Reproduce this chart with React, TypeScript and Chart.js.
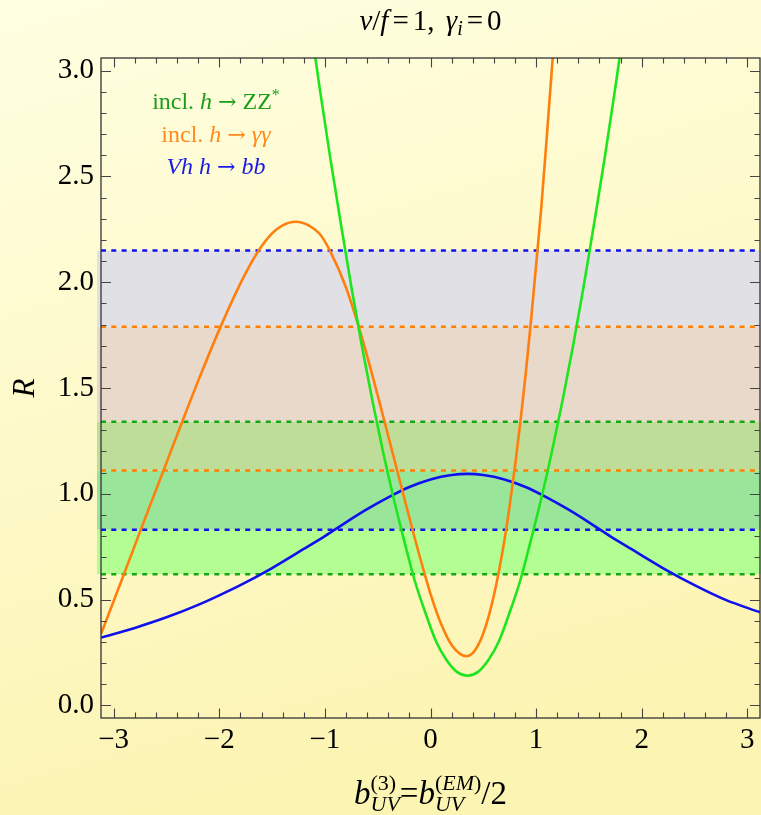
import React, { useEffect, useRef } from 'react';
import { Chart, registerables } from 'chart.js';

Chart.register(...registerables);

// ---- data ----
const zzX = [-1.25, -1.15, -1.05, -0.95, -0.85, -0.75, -0.65, -0.55, -0.45, -0.35, -0.25, -0.15, -0.05, 0.05, 0.15, 0.25, 0.35, 0.45, 0.55, 0.65, 0.75, 0.85, 0.95, 1.05, 1.15, 1.25, 1.35, 1.45, 1.55, 1.65, 1.75, 1.85, 1.95];
const zzY = [3.62, 3.27, 2.92, 2.59, 2.28, 1.98, 1.7, 1.44, 1.2, 0.98, 0.78, 0.59, 0.44, 0.305, 0.215, 0.158, 0.14, 0.158, 0.215, 0.305, 0.44, 0.59, 0.78, 0.98, 1.2, 1.44, 1.7, 1.98, 2.28, 2.59, 2.92, 3.27, 3.62];

const aaX = [-3.12, -2.92, -2.73, -2.52, -2.34, -2.177, -1.977, -1.777, -1.63, -1.5, -1.4, -1.277, -1.15, -1.05, -0.949, -0.8, -0.65, -0.5, -0.35, -0.2, -0.1, 0.0, 0.1, 0.2, 0.34, 0.4, 0.45, 0.5, 0.55, 0.6, 0.65, 0.7, 0.75, 0.8, 0.85, 0.9, 0.95, 1.0, 1.05, 1.1, 1.157, 1.21];
const aaY = [0.337, 0.597, 0.848, 1.121, 1.355, 1.562, 1.802, 2.017, 2.148, 2.231, 2.269, 2.286, 2.268, 2.229, 2.146, 1.975, 1.739, 1.465, 1.176, 0.887, 0.7, 0.527, 0.385, 0.285, 0.232, 0.247, 0.283, 0.34, 0.419, 0.519, 0.64, 0.78, 0.945, 1.13, 1.335, 1.56, 1.81, 2.08, 2.36, 2.68, 3.06, 3.44];

const bbX = [-3.12, -2.8, -2.5, -2.2, -2.0, -1.8, -1.5, -1.2, -1.0, -0.8, -0.6, -0.4, -0.2, 0.0, 0.2, 0.35, 0.5, 0.7, 0.9, 1.1, 1.3, 1.5, 1.7, 1.9, 2.2, 2.5, 2.8, 3.12];
const bbY = [0.32, 0.366, 0.416, 0.475, 0.52, 0.568, 0.649, 0.739, 0.8, 0.865, 0.927, 0.983, 1.032, 1.068, 1.089, 1.094, 1.089, 1.068, 1.032, 0.983, 0.927, 0.865, 0.8, 0.739, 0.649, 0.568, 0.497, 0.44];

// measured bands: order bb, γγ, ZZ
const bandLow = [0.83, 1.11, 0.62];
const bandHigh = [2.15, 1.79, 1.34];

const xTicks = [-3, -2, -1, 0, 1, 2, 3];
const yTicks = [0, 0.5, 1, 1.5, 2, 2.5, 3];

const X_MIN = -3.12, X_MAX = 3.12, Y_MIN = -0.06, Y_MAX = 3.06;

// ---- styles ----
const FONT = '"Liberation Serif", "Times New Roman", serif';
const ARROW_FONT = '"DejaVu Serif", serif';
const curveColors = ['#1EE61E', '#FF7F0E', '#1010EE'];
const dashColors = ['#1010EE', '#FF8000', '#11AA11'];
const textColors = ['#1A9E1A', '#FF8A1E', '#1A1AE6'];
// fill colour for each combination of covering bands (bb, γγ, ZZ)
const comboColors: Record<string, string> = {
  '100': '#E1E0E5',
  '110': '#E8D9CB',
  '111': '#BDDD99',
  '101': '#99E69A',
  '001': '#B3FE92',
  '011': '#BDDD99',
  '010': '#E8D9CB',
};

type Run = { t: string; it?: boolean; s?: number; dy?: number; gap?: number; f?: string };
type Stack = { sub: Run[]; sup: Run[]; subDy: number; supDy: number };
type Item = Run | Stack;

function fontOf(r: Run, base: number) {
  return `${r.it ? 'italic ' : ''}${Math.round(base * (r.s || 1))}px ${r.f || FONT}`;
}
function runsWidth(ctx: CanvasRenderingContext2D, runs: Run[], base: number) {
  let w = 0;
  for (const r of runs) {
    ctx.font = fontOf(r, base);
    w += ctx.measureText(r.t).width + (r.gap || 0);
  }
  return w;
}
function itemWidth(ctx: CanvasRenderingContext2D, it: Item, base: number) {
  if ('sub' in it) return Math.max(runsWidth(ctx, it.sub, base), runsWidth(ctx, it.sup, base));
  return runsWidth(ctx, [it], base);
}
function drawRuns(ctx: CanvasRenderingContext2D, runs: Run[], x: number, y: number, base: number) {
  for (const r of runs) {
    ctx.font = fontOf(r, base);
    ctx.fillText(r.t, x, y + (r.dy || 0));
    x += ctx.measureText(r.t).width + (r.gap || 0);
  }
}
function drawRich(ctx: CanvasRenderingContext2D, items: Item[], cx: number, y: number, base: number, color: string) {
  ctx.save();
  ctx.fillStyle = color;
  ctx.textAlign = 'left';
  ctx.textBaseline = 'alphabetic';
  let total = 0;
  for (const it of items) total += itemWidth(ctx, it, base);
  let x = cx - total / 2;
  for (const it of items) {
    const w = itemWidth(ctx, it, base);
    if ('sub' in it) {
      drawRuns(ctx, it.sub, x, y + it.subDy, base);
      drawRuns(ctx, it.sup, x, y + it.supDy, base);
    } else {
      drawRuns(ctx, [it], x, y, base);
    }
    x += w;
  }
  ctx.restore();
}

const decorPlugin = {
  id: 'decor',
  beforeDraw(chart: any) {
    const { ctx, width, height } = chart;
    ctx.save();
    const g = ctx.createLinearGradient(0, 0, width * 0.3, height);
    g.addColorStop(0, '#FFFFE2');
    g.addColorStop(1, '#FCF4B2');
    ctx.fillStyle = g;
    ctx.fillRect(0, 0, width, height);
    ctx.restore();
  },
  beforeDatasetsDraw(chart: any) {
    const { ctx, chartArea, scales } = chart;
    const ys = scales.y;
    const edges = Array.from(new Set([...bandLow, ...bandHigh])).sort((a, b) => a - b);
    ctx.save();
    ctx.beginPath();
    ctx.rect(chartArea.left - 4, chartArea.top, chartArea.right - chartArea.left + 6, chartArea.bottom - chartArea.top);
    ctx.clip();
    for (let i = 0; i < edges.length - 1; i++) {
      const lo = edges[i], hi = edges[i + 1], mid = (lo + hi) / 2;
      const key = bandLow.map((l, k) => (mid > l && mid < bandHigh[k] ? '1' : '0')).join('');
      const col = comboColors[key];
      if (!col) continue;
      const y1 = ys.getPixelForValue(hi), y2 = ys.getPixelForValue(lo);
      ctx.fillStyle = col;
      ctx.fillRect(chartArea.left - 4, y1, chartArea.right - chartArea.left + 6, y2 - y1);
    }
    ctx.lineWidth = 2.5;
    ctx.setLineDash([5, 5.3]);
    const order = [2, 1, 0];
    for (const k of order) {
      for (const v of [bandLow[k], bandHigh[k]]) {
        const y = ys.getPixelForValue(v);
        ctx.strokeStyle = dashColors[k];
        ctx.beginPath();
        ctx.moveTo(chartArea.left, y);
        ctx.lineTo(chartArea.right, y);
        ctx.stroke();
      }
    }
    ctx.restore();
  },
  afterDraw(chart: any) {
    const { ctx, chartArea: a, scales } = chart;
    const xs = scales.x, ys = scales.y;
    ctx.save();
    // frame
    ctx.strokeStyle = '#333';
    ctx.lineWidth = 1.3;
    ctx.strokeRect(a.left, a.top, a.right - a.left, a.bottom - a.top);
    // ticks
    ctx.strokeStyle = '#444';
    ctx.lineWidth = 1.1;
    ctx.beginPath();
    for (let i = Math.ceil(X_MIN * 5); i <= Math.floor(X_MAX * 5); i++) {
      const v = i / 5;
      const major = i % 5 === 0;
      const len = major ? 9.5 : 5.5;
      const px = Math.round(xs.getPixelForValue(v)) + 0.5;
      ctx.moveTo(px, a.bottom); ctx.lineTo(px, a.bottom - len);
      ctx.moveTo(px, a.top); ctx.lineTo(px, a.top + len);
    }
    for (let i = Math.ceil(Y_MIN * 10); i <= Math.floor(Y_MAX * 10); i++) {
      const v = i / 10;
      const major = i % 5 === 0;
      const len = major ? 10 : 5.5;
      const py = Math.round(ys.getPixelForValue(v)) + 0.5;
      ctx.moveTo(a.left, py); ctx.lineTo(a.left + len, py);
      ctx.moveTo(a.right, py); ctx.lineTo(a.right - len, py);
    }
    ctx.stroke();
    ctx.restore();

    const cx = (a.left + a.right) / 2;
    // title
    drawRich(ctx, [
      { t: 'v', it: true }, { t: '/' }, { t: 'f', it: true, gap: 4 }, { t: '=', gap: 4 }, { t: '1,', gap: 4 }, { t: ' ' },
      { t: 'γ', it: true }, { t: 'i', it: true, s: 0.7, dy: 5, gap: 4 }, { t: '=', gap: 4 }, { t: '0' },
    ], cx, 30, 29, '#000');
    // x-axis title
    drawRich(ctx, [
      { t: 'b', it: true },
      { sub: [{ t: 'UV', it: true, s: 0.68 }], sup: [{ t: '(3)', s: 0.68 }], subDy: 7, supDy: -14 },
      { t: '=' },
      { t: 'b', it: true },
      { sub: [{ t: 'UV', it: true, s: 0.68 }], sup: [{ t: '(', s: 0.68 }, { t: 'EM', it: true, s: 0.68 }, { t: ')', s: 0.68 }], subDy: 7, supDy: -14 },
      { t: '/2' },
    ], cx, 804, 33, '#000');
    // y-axis title
    ctx.save();
    ctx.translate(34, ys.getPixelForValue(1.5));
    ctx.rotate(-Math.PI / 2);
    drawRich(ctx, [{ t: 'R', it: true }], 0, 0, 31, '#000');
    ctx.restore();
    // legend
    const lx = 216;
    drawRich(ctx, [
      { t: 'incl. ' }, { t: 'h', it: true }, { t: ' ' }, { t: '→', f: ARROW_FONT, s: 0.9 }, { t: ' ZZ' }, { t: '*', s: 0.65, dy: -9 },
    ], lx, 109, 24, textColors[0]);
    drawRich(ctx, [
      { t: 'incl. ' }, { t: 'h', it: true }, { t: ' ' }, { t: '→', f: ARROW_FONT, s: 0.9 }, { t: ' ' }, { t: 'γγ', it: true },
    ], lx, 142, 24, textColors[1]);
    drawRich(ctx, [
      { t: 'Vh h', it: true }, { t: ' ' }, { t: '→', f: ARROW_FONT, s: 0.9 }, { t: ' ' }, { t: 'bb', it: true },
    ], lx, 174, 24, textColors[2]);
  },
};

function pts(xs: number[], ys: number[]) {
  return xs.map((x, i) => ({ x, y: ys[i] }));
}

export default function App() {
  const ref = useRef<HTMLCanvasElement | null>(null);
  useEffect(() => {
    if (!ref.current) return;
    const mk = (data: any[], color: string) => ({
      data,
      borderColor: color,
      borderWidth: 2.6,
      pointRadius: 0,
      fill: false,
      cubicInterpolationMode: 'monotone' as const,
    });
    const chart = new Chart(ref.current, {
      type: 'line',
      data: {
        datasets: [
          mk(pts(zzX, zzY), curveColors[0]),
          mk(pts(aaX, aaY), curveColors[1]),
          mk(pts(bbX, bbY), curveColors[2]),
        ],
      },
      options: {
        animation: false,
        responsive: false,
        maintainAspectRatio: false,
        devicePixelRatio: 1,
        layout: { padding: { top: 58, right: 1, left: 0, bottom: 0 } },
        plugins: { legend: { display: false }, title: { display: false }, tooltip: { enabled: false } },
        scales: {
          x: {
            type: 'linear',
            min: X_MIN,
            max: X_MAX,
            afterBuildTicks: (s: any) => { s.ticks = xTicks.map((v) => ({ value: v })); },
            afterFit: (s: any) => { s.height = 97; },
            grid: { display: false, drawTicks: false },
            border: { display: false },
            ticks: {
              font: { family: FONT, size: 29 },
              color: '#000',
              padding: 5,
              maxRotation: 0,
              callback: (v: any) => (v < 0 ? '\u2212' + Math.abs(v) : String(v)),
            },
          },
          y: {
            type: 'linear',
            min: Y_MIN,
            max: Y_MAX,
            afterBuildTicks: (s: any) => { s.ticks = yTicks.map((v) => ({ value: v })); },
            afterFit: (s: any) => { s.width = 101; },
            grid: { display: false, drawTicks: false },
            border: { display: false },
            ticks: {
              font: { family: FONT, size: 29 },
              color: '#000',
              padding: 7,
              callback: (v: any) => Number(v).toFixed(1),
            },
          },
        },
      },
      plugins: [decorPlugin],
    });
    return () => chart.destroy();
  }, []);
  return (
    <div style={{ position: 'absolute', left: 0, top: 0, width: 761, height: 815 }}>
      <canvas ref={ref} width={761} height={815} style={{ display: 'block', width: 761, height: 815 }} />
    </div>
  );
}
